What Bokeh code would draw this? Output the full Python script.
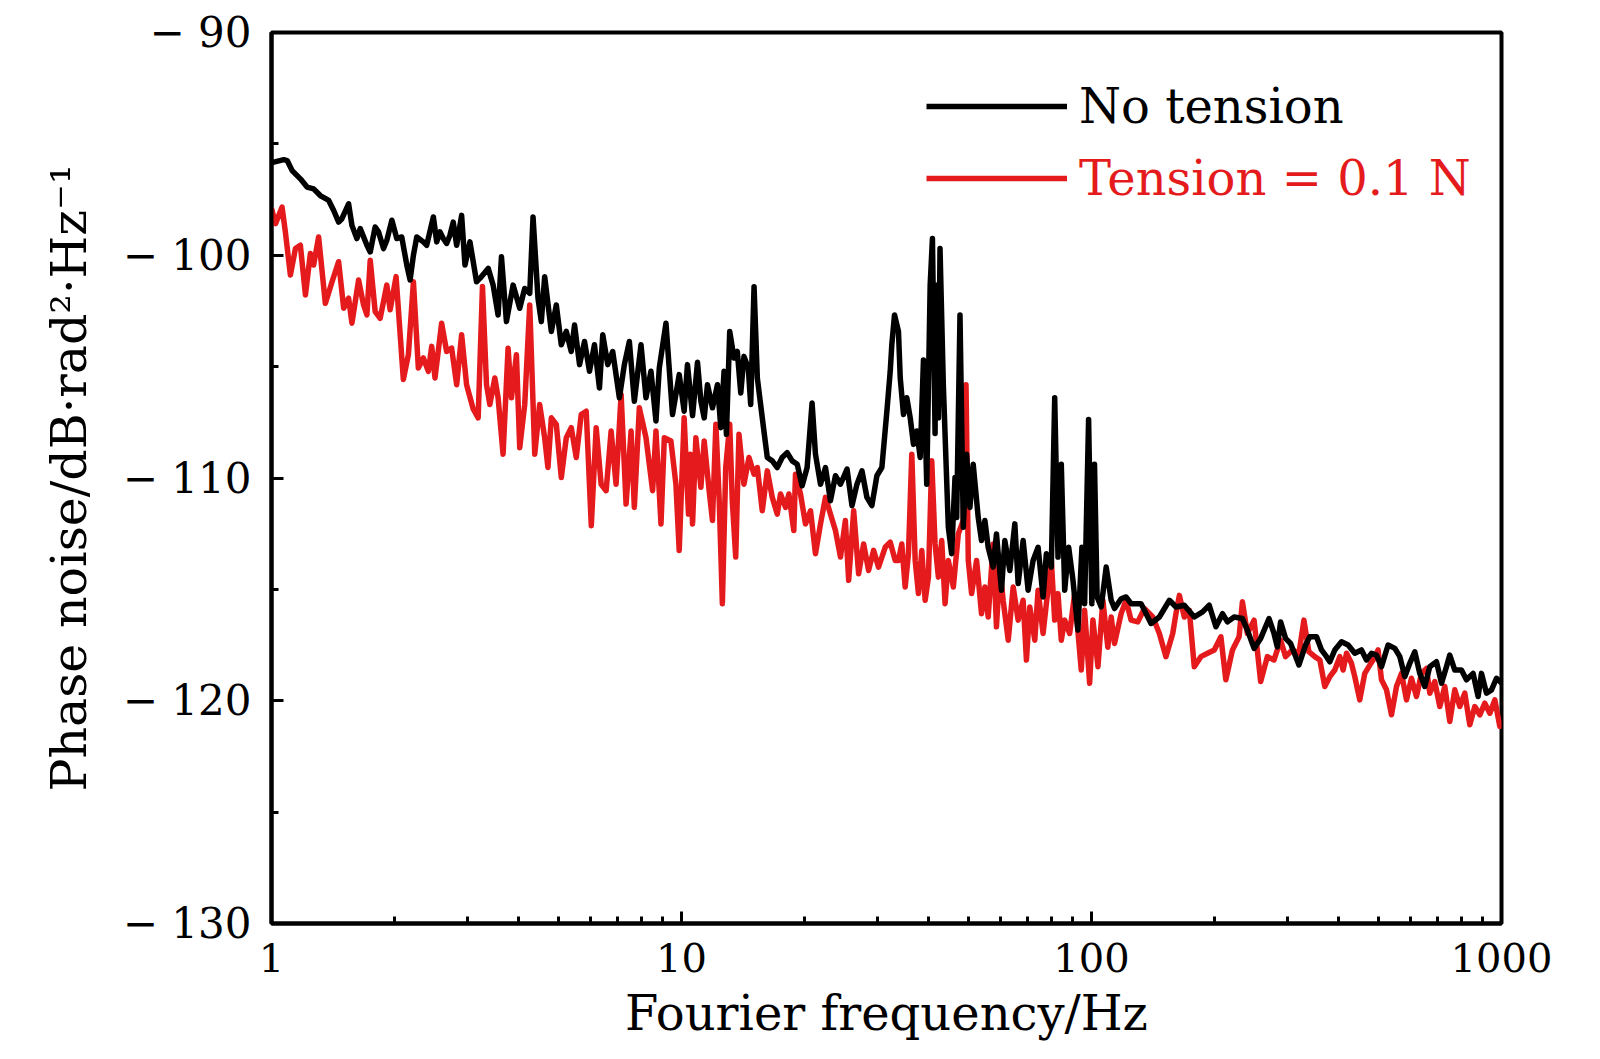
from bokeh.plotting import figure
from bokeh.models import Range1d, FixedTicker, CustomJSTickFormatter, Legend, LegendItem
from bokeh.embed import file_html
from bokeh.resources import INLINE

# ---- data: No tension (black) ----
freq_no = [1.0, 1.013, 1.072, 1.092, 1.123, 1.176, 1.221, 1.267, 1.315, 1.379, 1.418, 1.458,
           1.485, 1.542, 1.571, 1.615, 1.646, 1.709, 1.741, 1.790, 1.824, 1.876, 1.911, 1.966,
           2.021, 2.078, 2.138, 2.178, 2.219, 2.261, 2.346, 2.391, 2.482, 2.529, 2.576, 2.624,
           2.674, 2.724, 2.775, 2.829, 2.909, 2.964, 3.048, 3.163, 3.223, 3.377, 3.472, 3.570,
           3.638, 3.741, 3.884, 4.031, 4.146, 4.264, 4.344, 4.467, 4.551, 4.637, 4.814, 4.950,
           5.091, 5.236, 5.384, 5.485, 5.641, 5.800, 5.965, 6.134, 6.308, 6.426, 6.608, 6.795,
           7.055, 7.255, 7.461, 7.673, 7.966, 8.192, 8.424, 8.664, 8.828, 9.165, 9.508, 9.872,
           10.15, 10.34, 10.64, 10.94, 11.15, 11.36, 11.57, 11.90, 12.24, 12.47, 12.70, 12.87,
           13.11, 13.43, 13.68, 13.95, 14.20, 14.55, 14.75, 15.03, 15.31, 15.74, 16.19, 16.65,
           17.12, 17.60, 18.10, 18.62, 19.15, 19.69, 20.25, 20.82, 21.22, 21.83, 22.45, 23.08,
           23.74, 24.42, 25.34, 26.05, 26.79, 27.55, 28.33, 29.13, 29.96, 30.81, 31.69, 32.29,
           32.58, 33.08, 33.82, 34.16, 34.79, 35.44, 36.13, 36.80, 37.49, 38.21, 38.92, 39.64,
           40.41, 40.93, 41.54, 41.69, 42.33, 42.71, 43.51, 44.75, 45.59, 46.46, 46.90, 47.78,
           48.67, 49.59, 50.53, 51.46, 52.93, 53.92, 54.96, 55.98, 57.57, 58.64, 60.31, 61.46,
           63.22, 65.01, 66.24, 68.12, 70.05, 72.04, 74.08, 76.19, 77.61, 79.80, 81.33, 82.85,
           84.39, 86.03, 87.97, 90.12, 92.67, 94.77, 96.21, 98.38, 100.2, 101.7, 103.2, 105.6,
           108.6, 111.7, 113.8, 118.1, 121.4, 124.9, 132.1, 139.7, 146.4, 154.9, 160.7, 168.4,
           178.1, 186.6, 193.7, 201.1, 208.7, 214.6, 222.8, 233.4, 240.0, 249.2, 258.6, 271.0,
           278.7, 283.9, 289.2, 297.4, 305.9, 320.6, 332.7, 340.7, 353.9, 363.9, 374.3, 381.3,
           392.1, 407.2, 422.6, 438.7, 455.5, 468.5, 481.9, 495.6, 509.7, 528.9, 549.4, 564.9,
           580.9, 597.4, 614.4, 631.9, 650.0, 668.5, 694.1, 714.0, 734.3, 747.9, 769.2, 798.6,
           821.4, 852.5, 876.8, 893.7, 919.1, 945.4, 972.3, 1000.0]
pn_no = [-95.85, -95.82, -95.71, -95.75, -96.20, -96.57, -96.94, -97.02, -97.32, -97.54, -97.99, -98.51,
         -98.36, -97.69, -98.66, -99.25, -98.80, -99.55, -99.85, -98.73, -98.95, -99.70, -99.33, -98.43,
         -99.25, -99.18, -100.44, -101.11, -100.00, -99.18, -99.40, -99.55, -98.28, -99.40, -98.95, -99.25,
         -99.47, -99.10, -98.51, -99.55, -98.21, -100.44, -99.40, -101.19, -101.04, -100.59, -101.34, -102.68,
         -100.07, -102.98, -101.34, -102.38, -101.49, -101.71, -98.28, -101.93, -102.98, -100.96, -103.42, -102.23,
         -104.02, -103.42, -104.32, -103.13, -104.91, -103.87, -105.21, -104.02, -105.96, -103.57, -104.91, -104.32,
         -106.40, -104.91, -103.87, -106.55, -104.02, -106.40, -105.21, -107.44, -105.06, -103.05, -107.15, -105.36,
         -107.00, -104.91, -107.20, -104.80, -106.55, -107.30, -105.81, -106.85, -105.81, -107.74, -105.21, -108.04,
         -103.42, -104.61, -104.32, -106.18, -104.54, -105.06, -106.70, -101.41, -105.51, -107.30, -109.08, -109.23,
         -109.53, -109.08, -108.86, -109.23, -109.38, -110.35, -109.53, -106.63, -108.93, -110.28, -109.53, -111.02,
         -109.90, -110.28, -109.60, -111.24, -110.28, -109.68, -110.87, -111.24, -109.90, -109.53, -107.00, -105.21,
         -104.02, -102.68, -103.42, -105.51, -107.15, -106.40, -107.30, -108.49, -107.89, -109.08, -104.70, -110.28,
         -101.34, -99.25, -108.00, -101.34, -107.30, -99.70, -105.81, -112.21, -113.40, -109.98, -111.77, -102.68,
         -112.21, -108.93, -111.32, -109.38, -111.77, -112.81, -111.91, -113.11, -114.00, -112.51, -115.04, -112.81,
         -114.15, -112.06, -114.74, -112.81, -115.04, -113.70, -113.11, -115.34, -113.40, -114.00, -106.40, -113.55,
         -109.38, -115.04, -113.11, -114.59, -116.83, -113.11, -115.64, -107.37, -115.64, -109.38, -115.34, -115.79,
         -114.00, -115.49, -115.86, -115.42, -115.34, -115.64, -115.64, -116.53, -116.24, -115.49, -115.79, -115.71,
         -116.24, -116.01, -115.71, -116.68, -116.09, -116.46, -116.24, -116.31, -116.83, -117.65, -117.20, -116.31,
         -116.98, -117.58, -116.46, -117.20, -117.43, -118.39, -117.50, -117.13, -117.13, -117.72, -118.02, -118.25,
         -117.72, -117.35, -117.50, -117.87, -117.72, -118.17, -117.87, -117.95, -118.47, -117.50, -117.65, -118.02,
         -118.92, -118.32, -117.80, -118.77, -119.36, -118.47, -118.25, -119.21, -118.47, -117.95, -118.62, -118.62,
         -119.06, -118.77, -119.81, -118.77, -119.66, -119.51, -118.99, -119.20]

# ---- data: Tension = 0.1 N (red) ----
freq_t = [1.0, 1.023, 1.061, 1.081, 1.112, 1.144, 1.176, 1.210, 1.244, 1.267, 1.303, 1.353,
          1.405, 1.458, 1.500, 1.542, 1.571, 1.631, 1.677, 1.709, 1.741, 1.790, 1.841, 1.911,
          1.947, 2.013, 2.097, 2.157, 2.219, 2.281, 2.346, 2.413, 2.459, 2.505, 2.600, 2.674,
          2.750, 2.829, 2.909, 2.991, 3.104, 3.192, 3.270, 3.345, 3.408, 3.505, 3.570, 3.671,
          3.776, 3.848, 3.957, 4.031, 4.146, 4.264, 4.386, 4.508, 4.637, 4.723, 4.814, 4.950,
          5.091, 5.236, 5.384, 5.538, 5.694, 5.856, 6.025, 6.193, 6.368, 6.549, 6.735, 6.925,
          7.124, 7.325, 7.534, 7.673, 7.891, 8.192, 8.503, 8.664, 8.912, 9.080, 9.423, 9.692,
          9.872, 10.15, 10.40, 10.50, 10.64, 10.84, 11.15, 11.36, 11.68, 11.90, 12.13, 12.36,
          12.58, 12.82, 13.11, 13.30, 13.56, 13.81, 14.20, 14.61, 15.03, 15.31, 15.74, 16.19,
          16.65, 17.12, 17.44, 17.94, 18.28, 18.79, 18.97, 19.51, 20.06, 20.64, 21.22, 21.83,
          22.45, 23.08, 23.74, 24.42, 25.10, 25.57, 26.30, 27.04, 27.81, 28.60, 29.41, 30.24,
          31.39, 32.29, 33.21, 33.82, 34.46, 35.12, 35.77, 36.45, 37.15, 37.84, 38.55, 39.29,
          40.02, 40.77, 41.54, 42.33, 43.12, 43.94, 44.75, 46.03, 47.33, 48.67, 49.42, 50.06,
          51.00, 52.45, 53.92, 54.96, 55.98, 57.57, 58.64, 59.78, 60.89, 62.65, 64.42, 66.24,
          68.12, 69.39, 70.71, 72.72, 74.08, 76.19, 77.61, 79.80, 81.33, 82.85, 84.39, 86.03,
          88.46, 90.96, 94.41, 96.21, 98.95, 100.8, 103.7, 106.6, 109.6, 111.7, 113.8, 118.1,
          121.4, 124.9, 129.7, 134.6, 141.1, 146.4, 151.9, 157.8, 160.7, 163.8, 168.4, 173.2,
          178.1, 184.8, 191.9, 199.3, 206.8, 212.6, 220.7, 229.1, 233.4, 240.0, 249.2, 258.6,
          268.5, 278.7, 289.2, 297.4, 308.8, 320.6, 329.7, 338.9, 350.4, 360.5, 370.7, 381.3,
          392.1, 403.3, 410.9, 418.8, 430.6, 438.7, 451.2, 464.1, 477.3, 486.2, 500.0, 509.7,
          524.2, 539.1, 554.5, 570.2, 586.5, 603.1, 620.3, 638.0, 656.2, 668.5, 687.5, 707.1,
          727.2, 747.9, 769.2, 791.1, 813.7, 836.9, 860.8, 885.3, 910.6, 936.6, 963.2, 990.4,
          1000.0]
pn_t = [-97.90, -98.58, -97.84, -98.95, -100.89, -99.70, -99.55, -101.78, -99.92, -100.44, -99.18, -102.16,
        -101.19, -100.29, -102.38, -101.93, -103.05, -101.11, -102.23, -102.68, -100.22, -102.53, -102.83, -101.34,
        -102.45, -100.96, -105.58, -104.47, -101.19, -105.06, -104.61, -105.21, -104.09, -105.51, -103.05, -104.32,
        -104.17, -105.81, -103.57, -105.81, -106.90, -107.30, -101.40, -105.81, -106.70, -105.51, -106.40, -108.93,
        -104.17, -106.40, -104.47, -108.64, -106.70, -102.23, -108.93, -106.70, -108.19, -109.53, -107.30, -107.59,
        -109.98, -108.19, -107.74, -109.08, -107.15, -107.00, -112.14, -107.74, -110.28, -110.57, -107.89, -110.28,
        -106.25, -111.17, -107.89, -111.32, -106.85, -108.19, -110.57, -107.89, -112.06, -108.19, -108.34, -110.28,
        -113.25, -107.30, -111.62, -108.93, -112.06, -108.19, -110.42, -108.34, -110.57, -111.91, -107.59, -111.02,
        -115.64, -109.53, -107.59, -111.02, -113.55, -108.04, -110.28, -109.08, -109.83, -109.53, -111.47, -109.68,
        -110.87, -111.62, -110.72, -111.32, -110.72, -112.36, -109.83, -110.72, -112.06, -111.47, -113.40, -112.06,
        -110.87, -111.62, -112.36, -113.55, -111.91, -114.59, -111.47, -114.30, -112.96, -114.15, -113.25, -114.00,
        -113.11, -112.88, -113.70, -113.70, -112.96, -114.89, -113.40, -108.93, -113.70, -115.19, -113.25, -115.49,
        -114.45, -109.23, -112.96, -114.45, -112.81, -115.64, -113.70, -114.89, -112.51, -111.91, -105.81, -113.70,
        -115.19, -113.70, -116.09, -114.89, -116.24, -112.96, -116.68, -114.00, -115.49, -117.28, -114.89, -116.38,
        -115.49, -118.17, -115.79, -117.28, -115.04, -116.98, -115.64, -113.70, -116.38, -115.19, -117.28, -116.38,
        -116.98, -115.19, -118.62, -115.94, -119.22, -116.38, -118.47, -115.49, -117.60, -116.24, -117.43, -116.09,
        -115.49, -116.38, -116.46, -115.86, -116.24, -116.98, -118.02, -116.98, -116.09, -115.27, -116.24, -115.94,
        -118.47, -118.02, -117.87, -117.72, -117.13, -119.06, -117.72, -117.13, -115.56, -116.98, -116.38, -119.14,
        -118.02, -118.17, -117.28, -118.02, -117.72, -117.87, -116.38, -117.80, -118.02, -118.17, -119.36, -118.92,
        -118.62, -118.02, -118.62, -117.87, -118.32, -118.92, -119.96, -118.77, -118.40, -118.17, -117.72, -119.06,
        -119.51, -120.63, -119.36, -118.77, -119.96, -118.99, -119.81, -118.77, -118.55, -119.66, -119.14, -120.26,
        -119.36, -120.93, -119.51, -120.26, -119.66, -121.08, -120.26, -120.63, -120.11, -120.56, -119.96, -121.15,
        -120.85]

x_major = [1, 10, 100, 1000]
x_minor = [m * d for d in (1, 10, 100) for m in range(2, 10)]
y_major = [-130, -120, -110, -100, -90]
y_minor = [-125, -115, -105, -95]

label_no = "No tension"
label_t = "Tension = 0.1 N"
x_label = "Fourier frequency/Hz"
y_label = "Phase noise/dB\u00b7rad\u00b2\u00b7Hz\u207b\u00b9"

BLACK = "#000000"
RED = "#e41a1c"
FONT = "DejaVu Serif"

p = figure(width=1584, height=1043, x_axis_type="log",
           x_range=Range1d(1, 1000), y_range=Range1d(-130, -90),
           output_backend="svg", toolbar_location=None,
           min_border_left=271, min_border_right=83,
           min_border_top=32, min_border_bottom=119)

p.xgrid.visible = False
p.ygrid.visible = False
p.outline_line_color = "black"
p.outline_line_width = 4
p.outline_line_alpha = 1.0
p.background_fill_color = "white"
p.border_fill_color = "white"

r_t = p.line(freq_t, pn_t, line_color=RED, line_width=5.5, line_join="round")
r_no = p.line(freq_no, pn_no, line_color=BLACK, line_width=5.5, line_join="round")

p.xaxis.ticker = FixedTicker(ticks=x_major, minor_ticks=x_minor)
p.yaxis.ticker = FixedTicker(ticks=y_major, minor_ticks=y_minor)
p.xaxis.formatter = CustomJSTickFormatter(code="return Math.round(tick).toString();")
p.yaxis.formatter = CustomJSTickFormatter(
    code="return '\\u2212 ' + Math.abs(Math.round(tick)).toString();")

for ax in (p.xaxis[0], p.yaxis[0]):
    ax.axis_line_width = 4
    ax.axis_line_color = "black"
    ax.major_tick_line_width = 3
    ax.minor_tick_line_width = 3
    ax.major_tick_line_color = "black"
    ax.minor_tick_line_color = "black"
    ax.major_tick_in = 12
    ax.major_tick_out = 0
    ax.minor_tick_in = 7
    ax.minor_tick_out = 0
    ax.major_label_text_font = FONT
    ax.major_label_text_color = "black"
    ax.axis_label_text_font = FONT
    ax.axis_label_text_font_style = "normal"
    ax.axis_label_text_color = "black"

p.xaxis.major_label_text_font_size = "40px"
p.yaxis.major_label_text_font_size = "42px"
p.xaxis.major_label_standoff = 19
p.xaxis.axis_label = x_label
p.xaxis.axis_label_text_font_size = "48px"
p.xaxis.axis_label_standoff = 10

p.yaxis.axis_label = y_label
p.yaxis.axis_label_text_font_size = "49px"
p.yaxis.major_label_standoff = 20
p.yaxis.axis_label_standoff = 22

common = dict(border_line_alpha=0, background_fill_alpha=0, padding=0, margin=0,
              glyph_width=141, glyph_height=40, label_height=40, label_standoff=12,
              label_text_font=FONT, label_text_font_size="48px", spacing=0)
leg1 = Legend(items=[LegendItem(label=label_no, renderers=[r_no])],
              location=(655, 789), label_text_color=BLACK, **common)
leg2 = Legend(items=[LegendItem(label=label_t, renderers=[r_t])],
              location=(655, 717), label_text_color=RED, **common)
p.add_layout(leg1)
p.add_layout(leg2)

open("out.html", "w").write(file_html(p, INLINE))
